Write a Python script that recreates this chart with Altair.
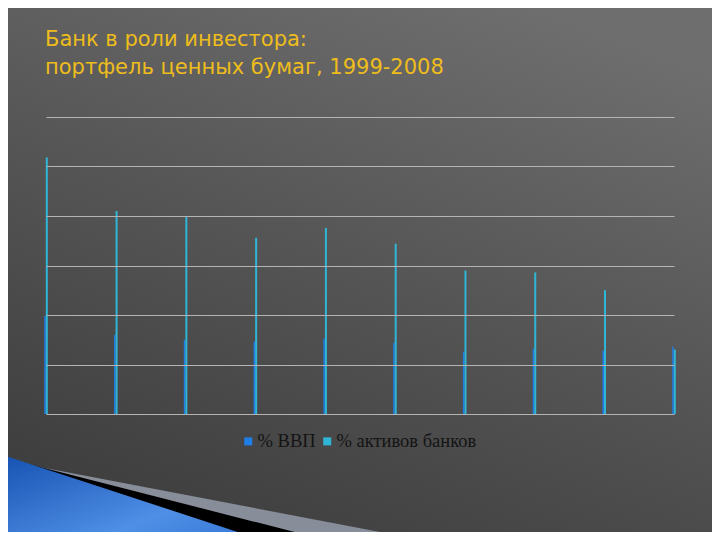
import altair as alt
import pandas as pd

# ---- data ----
years = ["1999", "2000", "2001", "2002", "2003", "2004", "2005", "2006", "2007", "2008"]
gdp_pct = [9.9, 8.0, 7.5, 7.3, 7.6, 7.2, 6.3, 6.6, 6.4, 6.8]          # % ВВП
assets_pct = [25.9, 20.5, 19.9, 17.8, 18.8, 17.2, 14.5, 14.3, 12.5, 6.5]  # % активов банков
series_names = ["% ВВП", "% активов банков"]
series_colors = ["#1f7ee8", "#2fb6d6"]
title_lines = ["Банк в роли инвестора:", "портфель ценных бумаг, 1999-2008"]

df = pd.DataFrame({
    "year": years * 2,
    "series": [series_names[0]] * len(years) + [series_names[1]] * len(years),
    "value": gdp_pct + assets_pct,
})

W, H = 628, 297
PAD_L, PAD_T = 38, 109
PAD_R = 704 - PAD_L - W
PAD_B = 524 - PAD_T - H

one = pd.DataFrame({"a": [0]})

# background gradient
bg = alt.Chart(one).mark_rect(
    color=alt.LinearGradient(
        gradient="linear", x1=0.25, y1=1, x2=0.75, y2=0,
        stops=[alt.GradientStop(color="#3e3e3e", offset=0),
               alt.GradientStop(color="#555555", offset=0.5),
               alt.GradientStop(color="#6e6e6e", offset=1)],
    )
).encode(
    x=alt.value(-PAD_L), x2=alt.value(W + PAD_R),
    y=alt.value(-PAD_T), y2=alt.value(H + PAD_B),
)

# title as real text
title = alt.Chart(one).mark_text(
    text=title_lines, align="left", baseline="top", font="DejaVu Sans",
    fontSize=21, lineHeight=28, color="#eebd1c",
).encode(x=alt.value(-1), y=alt.value(-88))

# decorative swoosh bottom-left (plot-pixel coordinates)
deco_gray = pd.DataFrame({"px": [-46, 376], "py": [342.6, 423], "py2": [440, 440]})
deco_black = pd.DataFrame({"px": [-46, 280], "py": [339.8, 423], "py2": [440, 440]})
deco_blue = pd.DataFrame({"px": [-46, 216], "py": [337, 423], "py2": [440, 440]})

def deco(d, color):
    return alt.Chart(d).mark_area(color=color, opacity=1).encode(
        x=alt.X("px:Q", scale=None, axis=None),
        y=alt.Y("py:Q", scale=None, axis=None),
        y2="py2:Q",
    )

blue_grad = alt.LinearGradient(
    gradient="linear", x1=0, y1=0, x2=1, y2=1,
    stops=[alt.GradientStop(color="#1550b0", offset=0),
           alt.GradientStop(color="#4f8fe6", offset=0.6),
           alt.GradientStop(color="#2a6fd0", offset=1)],
)
decos = alt.layer(
    deco(deco_gray, "#878d99"),
    deco(deco_black, "#000000"),
    deco(deco_blue, blue_grad),
)

color_scale = alt.Scale(domain=series_names, range=series_colors)
x_enc = alt.X("year:O", scale=alt.Scale(type="point", padding=0), axis=None)
y_enc = alt.Y(
    "value:Q",
    scale=alt.Scale(domain=[0, 30], nice=False),
    axis=alt.Axis(values=[0, 5, 10, 15, 20, 25, 30], grid=True, gridColor="#b4b4b4",
                  gridWidth=1, labels=False, ticks=False, domain=False, title=None, zindex=1),
)
legend = alt.Legend(
    orient="none", legendX=193, legendY=315, direction="horizontal", title=None,
    labelFont="Liberation Serif", labelFontSize=18.5, labelColor="#141414",
    symbolType="square", symbolSize=64, symbolStrokeWidth=0, columnPadding=2,
    labelOffset=0,
)
color_enc = alt.Color("series:N", scale=color_scale, legend=legend, sort=series_names)

blue = alt.Chart(df).transform_filter(alt.datum.series == series_names[0]).mark_bar(
    size=1.5, xOffset=-1
).encode(x=x_enc, y=y_enc, color=color_enc)
teal = alt.Chart(df).transform_filter(alt.datum.series == series_names[1]).mark_bar(
    size=2, xOffset=0.8
).encode(x=x_enc, y=y_enc, color=color_enc)
bars = alt.layer(blue, teal)

chart = alt.layer(bg, title, decos, bars).resolve_scale(
    x="independent", y="independent"
).properties(
    width=W, height=H,
    autosize=alt.AutoSizeParams(type="none"),
    padding={"left": PAD_L, "top": PAD_T, "right": PAD_R, "bottom": PAD_B},
    background="#555555",
).configure_view(stroke=None)

chart.save("out.html", embed_options={"renderer": "svg", "actions": False})
